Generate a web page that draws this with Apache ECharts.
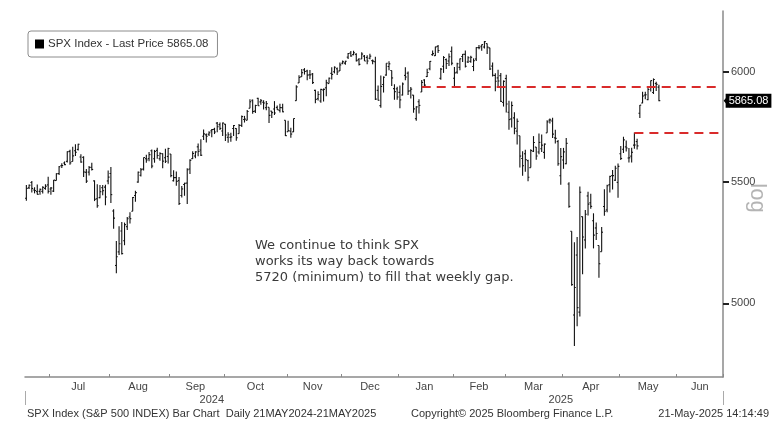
<!DOCTYPE html>
<html>
<head>
<meta charset="utf-8">
<script src="https://cdn.jsdelivr.net/npm/echarts@6/dist/echarts.min.js"></script>
<style>
html,body{margin:0;padding:0;background:#fff;}
#chart{width:780px;height:431px;}
</style>
</head>
<body>
<div id="chart"></div>
<script>
// Trading days shown on the axis (data through 21 May 2025, empty days after)
const dates = [
'2024-06-17','2024-06-18','2024-06-20','2024-06-21','2024-06-24','2024-06-25','2024-06-26','2024-06-27','2024-06-28',
'2024-07-01','2024-07-02','2024-07-03','2024-07-05','2024-07-08','2024-07-09','2024-07-10','2024-07-11','2024-07-12','2024-07-15','2024-07-16','2024-07-17','2024-07-18','2024-07-19','2024-07-22','2024-07-23','2024-07-24','2024-07-25','2024-07-26','2024-07-29','2024-07-30','2024-07-31',
'2024-08-01','2024-08-02','2024-08-05','2024-08-06','2024-08-07','2024-08-08','2024-08-09','2024-08-12','2024-08-13','2024-08-14','2024-08-15','2024-08-16','2024-08-19','2024-08-20','2024-08-21','2024-08-22','2024-08-23','2024-08-26','2024-08-27','2024-08-28','2024-08-29','2024-08-30',
'2024-09-03','2024-09-04','2024-09-05','2024-09-06','2024-09-09','2024-09-10','2024-09-11','2024-09-12','2024-09-13','2024-09-16','2024-09-17','2024-09-18','2024-09-19','2024-09-20','2024-09-23','2024-09-24','2024-09-25','2024-09-26','2024-09-27','2024-09-30',
'2024-10-01','2024-10-02','2024-10-03','2024-10-04','2024-10-07','2024-10-08','2024-10-09','2024-10-10','2024-10-11','2024-10-14','2024-10-15','2024-10-16','2024-10-17','2024-10-18','2024-10-21','2024-10-22','2024-10-23','2024-10-24','2024-10-25','2024-10-28','2024-10-29','2024-10-30','2024-10-31',
'2024-11-01','2024-11-04','2024-11-05','2024-11-06','2024-11-07','2024-11-08','2024-11-11','2024-11-12','2024-11-13','2024-11-14','2024-11-15','2024-11-18','2024-11-19','2024-11-20','2024-11-21','2024-11-22','2024-11-25','2024-11-26','2024-11-27','2024-11-29',
'2024-12-02','2024-12-03','2024-12-04','2024-12-05','2024-12-06','2024-12-09','2024-12-10','2024-12-11','2024-12-12','2024-12-13','2024-12-16','2024-12-17','2024-12-18','2024-12-19','2024-12-20','2024-12-23','2024-12-24','2024-12-26','2024-12-27','2024-12-30','2024-12-31',
'2025-01-02','2025-01-03','2025-01-06','2025-01-07','2025-01-08','2025-01-10','2025-01-13','2025-01-14','2025-01-15','2025-01-16','2025-01-17','2025-01-21','2025-01-22','2025-01-23','2025-01-24','2025-01-27','2025-01-28','2025-01-29','2025-01-30','2025-01-31',
'2025-02-03','2025-02-04','2025-02-05','2025-02-06','2025-02-07','2025-02-10','2025-02-11','2025-02-12','2025-02-13','2025-02-14','2025-02-18','2025-02-19','2025-02-20','2025-02-21','2025-02-24','2025-02-25','2025-02-26','2025-02-27','2025-02-28',
'2025-03-03','2025-03-04','2025-03-05','2025-03-06','2025-03-07','2025-03-10','2025-03-11','2025-03-12','2025-03-13','2025-03-14','2025-03-17','2025-03-18','2025-03-19','2025-03-20','2025-03-21','2025-03-24','2025-03-25','2025-03-26','2025-03-27','2025-03-28','2025-03-31',
'2025-04-01','2025-04-02','2025-04-03','2025-04-04','2025-04-07','2025-04-08','2025-04-09','2025-04-10','2025-04-11','2025-04-14','2025-04-15','2025-04-16','2025-04-17','2025-04-21','2025-04-22','2025-04-23','2025-04-24','2025-04-25','2025-04-28','2025-04-29','2025-04-30',
'2025-05-01','2025-05-02','2025-05-05','2025-05-06','2025-05-07','2025-05-08','2025-05-09','2025-05-12','2025-05-13','2025-05-14','2025-05-15','2025-05-16','2025-05-19','2025-05-20','2025-05-21',
'2025-05-22','2025-05-23','2025-05-27','2025-05-28','2025-05-29','2025-05-30',
'2025-06-02','2025-06-03','2025-06-04','2025-06-05','2025-06-06','2025-06-09','2025-06-10','2025-06-11','2025-06-12','2025-06-13','2025-06-16','2025-06-17','2025-06-18','2025-06-20','2025-06-23','2025-06-24','2025-06-25'
];

// Daily bars [open, high, low, close], one per trading day from 2024-06-17
const spxOHLC = [
[5431.1,5488.5,5420.4,5473.2],[5476.2,5490.4,5471.3,5487.0],[5499.0,5505.5,5455.6,5473.2],[5466.8,5478.3,5452.0,5464.6],[5459.6,5490.7,5447.6,5447.9],[5460.7,5472.9,5446.6,5469.3],[5460.7,5483.1,5451.9,5477.9],[5473.6,5490.8,5467.5,5482.9],[5488.5,5523.6,5451.1,5460.5],
[5471.1,5479.6,5446.5,5475.1],[5461.8,5509.7,5458.0,5509.0],[5507.4,5539.3,5507.4,5537.0],[5537.9,5570.3,5531.6,5567.2],[5572.8,5583.1,5562.5,5572.9],[5584.2,5590.8,5574.6,5577.0],[5591.3,5635.4,5586.4,5633.9],[5635.2,5642.5,5576.5,5584.5],[5590.8,5655.6,5590.4,5615.4],[5638.2,5666.9,5614.8,5631.2],[5644.1,5669.7,5639.0,5667.2],[5610.1,5622.5,5584.8,5588.3],[5608.6,5614.1,5522.8,5544.6],[5543.4,5557.5,5497.0,5505.0],[5544.1,5570.4,5529.0,5564.4],[5565.3,5585.3,5550.9,5555.7],[5505.8,5508.0,5419.0,5427.1],[5428.7,5491.6,5390.9,5399.2],[5433.7,5488.3,5430.7,5459.1],[5476.6,5487.7,5444.4,5463.5],[5478.7,5489.5,5401.7,5436.4],[5505.6,5551.5,5491.0,5522.3],
[5537.8,5566.2,5410.4,5446.7],[5376.6,5383.9,5302.0,5346.6],[5151.1,5250.9,5119.3,5186.3],[5206.4,5312.3,5193.6,5240.0],[5293.1,5330.6,5195.5,5199.5],[5252.6,5328.0,5233.9,5319.3],[5310.9,5351.9,5297.2,5344.2],[5351.4,5371.2,5324.4,5344.4],[5376.0,5436.5,5376.0,5434.4],[5442.7,5463.2,5415.9,5455.2],[5500.9,5546.2,5497.5,5543.2],[5530.5,5561.9,5525.2,5554.3],[5557.2,5608.3,5550.7,5608.3],[5602.9,5620.5,5585.5,5597.1],[5603.1,5632.7,5591.6,5620.9],[5637.8,5643.2,5560.9,5570.6],[5602.8,5641.8,5585.2,5634.6],[5639.7,5651.6,5602.3,5616.8],[5602.9,5631.2,5593.5,5625.8],[5624.5,5627.0,5560.9,5592.2],[5607.3,5646.9,5583.7,5592.0],[5612.7,5651.4,5581.3,5648.4],
[5623.9,5623.9,5521.2,5528.9],[5506.7,5552.0,5503.7,5520.1],[5520.1,5546.3,5485.3,5503.4],[5507.3,5522.5,5402.6,5408.4],[5442.7,5484.2,5434.5,5471.1],[5490.5,5497.9,5441.7,5495.5],[5496.4,5560.4,5406.9,5554.1],[5557.5,5600.7,5535.5,5595.8],[5603.3,5636.3,5601.7,5626.0],[5615.1,5636.1,5604.5,5633.1],[5655.5,5670.8,5614.1,5634.6],[5641.7,5689.8,5615.1,5618.3],[5702.6,5733.6,5686.4,5713.6],[5709.2,5715.1,5674.5,5702.6],[5711.9,5725.4,5704.2,5718.6],[5727.0,5735.3,5698.0,5732.9],[5733.6,5741.0,5712.8,5722.3],[5762.2,5767.4,5721.0,5745.4],[5755.4,5765.1,5730.7,5738.2],[5726.5,5765.1,5703.5,5762.5],
[5757.7,5757.7,5681.3,5708.8],[5698.2,5720.3,5674.1,5709.5],[5698.0,5718.8,5677.9,5699.9],[5737.8,5753.6,5703.7,5751.1],[5737.8,5739.3,5683.0,5695.9],[5714.6,5757.6,5714.6,5751.1],[5751.8,5796.8,5745.0,5792.0],[5778.4,5795.0,5764.8,5780.1],[5775.1,5822.1,5775.1,5815.0],[5829.8,5871.4,5829.8,5859.9],[5866.7,5870.4,5804.5,5815.3],[5816.6,5846.4,5808.3,5842.5],[5875.6,5878.5,5840.3,5841.5],[5859.4,5872.2,5846.1,5864.7],[5857.8,5866.9,5824.8,5854.0],[5832.7,5863.0,5821.2,5851.2],[5834.5,5834.9,5762.4,5797.4],[5816.6,5817.8,5784.9,5809.9],[5826.8,5862.8,5799.0,5808.1],[5833.9,5842.9,5823.1,5823.5],[5819.7,5850.9,5810.3,5832.9],[5832.7,5850.9,5811.3,5813.7],[5775.3,5775.3,5703.6,5705.5],
[5723.2,5772.6,5723.2,5728.8],[5725.2,5741.4,5696.5,5712.7],[5722.4,5783.4,5722.1,5782.8],[5864.9,5936.1,5864.9,5929.0],[5947.5,5983.8,5947.5,5973.1],[5976.8,6012.5,5976.8,5995.5],[6008.9,6017.3,5986.7,6001.4],[6003.6,6009.9,5960.1,5984.0],[5985.8,6008.2,5965.9,5985.4],[5989.5,5993.9,5942.3,5949.2],[5912.8,5915.3,5853.0,5870.6],[5874.2,5909.0,5865.9,5893.6],[5863.6,5920.7,5854.8,5917.0],[5914.6,5920.9,5860.6,5917.1],[5924.6,5962.0,5885.8,5948.7],[5944.4,5972.9,5944.4,5969.3],[5992.3,6020.8,5963.9,5987.4],[6000.0,6025.4,5992.3,6021.6],[6014.1,6020.2,5984.9,5998.7],[6003.9,6044.2,6003.9,6032.4],
[6040.1,6053.6,6035.3,6047.2],[6041.0,6052.1,6033.4,6049.9],[6069.4,6089.8,6061.1,6086.5],[6089.3,6099.0,6070.9,6075.1],[6081.4,6099.9,6079.0,6090.3],[6083.0,6088.5,6048.6,6052.9],[6057.6,6065.4,6029.9,6034.9],[6060.2,6092.6,6060.2,6084.2],[6074.3,6079.7,6051.3,6051.3],[6068.2,6078.6,6035.8,6051.1],[6063.8,6085.2,6059.1,6074.1],[6052.6,6057.7,6035.2,6050.6],[6047.7,6070.7,5867.8,5872.2],[5912.7,5935.5,5866.1,5867.1],[5842.0,5982.1,5832.3,5930.9],[5940.3,5978.3,5902.6,5974.1],[5984.6,6040.1,5981.4,6040.0],[6024.9,6049.8,6007.4,6037.6],[6006.2,6006.2,5932.9,5970.8],[5920.7,5940.8,5869.2,5906.9],[5919.7,5929.7,5868.9,5881.6],
[5903.3,5935.1,5829.5,5868.6],[5891.1,5949.3,5888.7,5942.5],[5982.8,6021.0,5960.0,5975.4],[5993.3,6000.7,5890.7,5909.0],[5910.7,5927.9,5874.8,5918.3],[5890.7,5890.7,5809.4,5827.0],[5782.3,5838.8,5773.3,5836.2],[5859.7,5871.9,5805.5,5842.9],[5905.2,5960.6,5905.2,5949.9],[5961.3,5964.7,5930.6,5937.3],[5977.2,6014.0,5975.4,5996.7],[6014.1,6051.5,6006.9,6049.2],[6081.4,6100.8,6076.1,6086.4],[6076.3,6118.7,6074.7,6118.7],[6121.4,6128.2,6088.7,6101.2],[5969.0,6017.2,5962.9,6012.3],[6026.0,6074.5,5994.6,6067.7],[6057.7,6062.8,6012.9,6039.3],[6050.8,6086.6,6027.5,6071.2],[6096.8,6120.9,6030.9,6040.5],
[5969.7,6022.1,5923.9,5994.6],[5998.1,6042.5,5990.9,6037.9],[6020.5,6062.9,6007.1,6061.5],[6072.2,6084.0,6046.8,6083.6],[6083.1,6101.3,6019.9,6026.0],[6046.4,6073.4,6041.6,6066.4],[6049.3,6076.3,6042.3,6068.5],[6025.1,6063.5,6003.0,6052.0],[6060.6,6116.9,6051.0,6115.1],[6115.5,6127.5,6107.6,6114.6],[6121.6,6129.6,6099.5,6129.6],[6117.8,6147.4,6111.2,6144.2],[6134.5,6134.5,6084.6,6117.5],[6114.1,6114.8,6008.6,6013.1],[6026.7,6043.6,5977.8,5983.3],[5982.7,5992.7,5908.5,5955.3],[5970.9,6009.8,5932.7,5956.1],[5981.9,5993.7,5858.8,5861.6],[5856.7,5959.4,5837.7,5954.5],
[5968.3,5986.1,5810.9,5849.7],[5811.9,5865.1,5732.6,5778.2],[5781.4,5860.6,5742.4,5842.6],[5785.9,5812.1,5711.6,5738.5],[5726.0,5783.0,5666.3,5770.2],[5705.4,5705.4,5564.0,5614.6],[5603.7,5636.3,5528.4,5572.1],[5624.8,5642.2,5546.1,5599.3],[5594.5,5597.8,5504.7,5521.5],[5563.9,5645.3,5563.9,5638.9],[5635.6,5703.5,5632.4,5675.1],[5654.5,5654.5,5597.8,5614.7],[5632.4,5715.3,5622.2,5675.3],[5646.9,5711.2,5632.6,5662.9],[5630.7,5670.8,5603.1,5667.6],[5718.1,5775.1,5718.1,5767.6],[5775.9,5783.6,5759.9,5776.7],[5771.7,5786.9,5694.5,5712.2],[5695.6,5732.3,5670.9,5693.3],[5679.0,5685.9,5572.4,5580.9],[5527.9,5650.6,5488.7,5611.9],
[5597.5,5650.8,5558.5,5633.1],[5580.8,5695.3,5578.6,5671.0],[5492.7,5500.4,5390.8,5396.5],[5292.1,5292.1,5069.9,5074.1],[4953.8,5246.6,4835.0,5062.3],[5193.6,5267.5,4910.4,4982.8],[4965.3,5481.3,4948.4,5456.9],[5353.2,5353.2,5115.3,5268.1],[5255.6,5381.5,5220.8,5363.4],[5441.0,5459.5,5358.0,5406.0],[5411.9,5450.4,5386.4,5396.6],[5335.8,5367.2,5220.8,5275.7],[5305.5,5328.3,5255.6,5282.7],[5232.9,5232.9,5101.6,5158.2],[5207.7,5309.6,5207.7,5287.8],[5395.9,5469.7,5356.5,5375.9],[5381.4,5489.4,5371.9,5484.8],[5489.7,5528.1,5455.9,5525.2],[5529.2,5553.7,5468.6,5528.8],[5508.9,5571.9,5505.7,5560.8],[5499.4,5581.8,5433.2,5569.1],
[5625.1,5658.9,5597.4,5604.1],[5645.0,5700.7,5628.1,5686.7],[5655.3,5683.3,5634.5,5650.4],[5605.9,5649.9,5586.1,5606.9],[5614.2,5651.7,5586.4,5631.3],[5663.2,5720.1,5646.5,5663.9],[5679.0,5691.3,5644.2,5659.9],[5807.2,5845.1,5785.9,5844.2],[5854.1,5906.6,5853.5,5886.6],[5891.0,5906.0,5871.0,5892.6],[5869.8,5924.2,5867.4,5916.9],[5929.1,5958.6,5907.4,5958.4],[5902.9,5968.6,5895.7,5963.6],[5944.7,5953.1,5909.3,5940.5],[5928.0,5939.0,5862.0,5865.1]
];

const yTicks = [5000, 5500, 6000];
const lastPrice = 5865.08;
const upperLevel = 5930;   // red dashed line
const upperStart = '2025-01-15';
const lowerLevel = 5720;   // weekly gap level
const lowerStart = '2025-05-08';
const seriesName = 'SPX Index - Last Price 5865.08';
const noteText = 'We continue to think SPX\nworks its way back towards\n5720 (minimum) to fill that weekly gap.';
const monthNames = ['Jan','Feb','Mar','Apr','May','Jun','Jul','Aug','Sep','Oct','Nov','Dec'];

// month grouping of categories (for ticks and centred labels)
const monthFirst = {}, monthMid = {};
(function () {
  const groups = [];
  dates.forEach((d, i) => {
    const key = d.slice(0, 7);
    if (!groups.length || groups[groups.length - 1].key !== key) groups.push({ key, start: i, n: 0 });
    groups[groups.length - 1].n++;
  });
  groups.forEach((g, gi) => {
    if (gi > 0) monthFirst[g.start] = true;
    if (gi > 0) monthMid[g.start + Math.floor((g.n - 1) / 2)] = monthNames[+g.key.slice(5, 7) - 1];
  });
})();
const first2025 = dates.findIndex(d => d.startsWith('2025'));
const yearMid = {};
yearMid[Math.floor((first2025 - 1) / 2)] = '2024';
yearMid[first2025 + Math.floor((dates.length - 1 - first2025) / 2)] = '2025';

const barData = spxOHLC.map((r, i) => [i, r[0], r[1], r[2], r[3]]);
const FONT = 'Liberation Sans, Arial, sans-serif';
const NOTE_FONT = 'DejaVu Sans, Verdana, sans-serif';

function tickLabel(v, i) {
  let best = yTicks[0], d = Infinity;
  yTicks.forEach(t => { const dd = Math.abs(Math.log(t) - Math.log(+v)); if (dd < d) { d = dd; best = t; } });
  if (!isFinite(d) && i != null && yTicks[i] != null) best = yTicks[i];
  return String(best);
}

const chart = echarts.init(document.getElementById('chart'), null, { renderer: 'canvas' });
chart.setOption({
  animation: false,
  backgroundColor: '#ffffff',
  textStyle: { fontFamily: FONT },
  grid: { left: 25, right: 57, top: 11, bottom: 54, containLabel: false },
  legend: {
    left: 28, top: 31,
    data: [{ name: seriesName, icon: 'rect' }],
    selectedMode: false,
    itemWidth: 9, itemHeight: 9, itemGap: 4,
    borderColor: '#8c8c8c', borderWidth: 1, borderRadius: 3,
    padding: [7, 9, 7, 7],
    textStyle: { fontFamily: FONT, fontSize: 11.5, color: '#333', padding: [0, 0, 0, -1] }
  },
  xAxis: [{
    type: 'category', data: dates, boundaryGap: true, position: 'bottom',
    axisLine: { show: true, lineStyle: { color: '#8a8a8a', width: 1.5 } },
    axisTick: { show: true, inside: true, length: 3, interval: (i) => !!monthFirst[i], lineStyle: { color: '#8a8a8a' } },
    axisLabel: { interval: (i) => monthMid[i] !== undefined, formatter: (v, i) => monthMid[i] || '', color: '#444', fontSize: 11, margin: 4, fontFamily: FONT },
    splitLine: { show: false }
  }, {
    type: 'category', data: dates, boundaryGap: true, position: 'bottom', offset: 14,
    axisLine: { show: false },
    axisTick: { show: true, inside: false, length: 14, interval: (i) => i === first2025, lineStyle: { color: '#aaa' } },
    axisLabel: { interval: (i) => yearMid[i] !== undefined, formatter: (v, i) => yearMid[i] || '', color: '#444', fontSize: 11, margin: 3, fontFamily: FONT },
    splitLine: { show: false }
  }],
  yAxis: {
    type: 'log', logBase: 10, position: 'right', min: 4718, max: 6294,
    axisLine: { show: true, lineStyle: { color: '#8a8a8a', width: 1.5 } },
    axisTick: { show: true, customValues: yTicks, length: 6, lineStyle: { color: '#222', width: 2 } },
    axisLabel: { customValues: yTicks, formatter: tickLabel, color: '#444', fontSize: 11, margin: 8, fontFamily: FONT },
    splitLine: { show: false }
  },
  series: [{
    name: seriesName,
    type: 'custom',
    xAxisIndex: 0,
    itemStyle: { color: '#000' },
    encode: { x: 0, y: [1, 2, 3, 4] },
    data: barData,
    renderItem: function (params, api) {
      const x = api.value(0);
      const o = api.coord([x, api.value(1)]);
      const h = api.coord([x, api.value(2)]);
      const l = api.coord([x, api.value(3)]);
      const c = api.coord([x, api.value(4)]);
      const w = api.size([1, 0])[0] * 0.5;
      const st = { stroke: '#111', lineWidth: 1.1 };
      return {
        type: 'group',
        children: [
          { type: 'line', shape: { x1: h[0], y1: h[1], x2: l[0], y2: l[1] }, style: st },
          { type: 'line', shape: { x1: o[0] - w, y1: o[1], x2: o[0], y2: o[1] }, style: st },
          { type: 'line', shape: { x1: c[0], y1: c[1], x2: c[0] + w, y2: c[1] }, style: st }
        ]
      };
    },
    markLine: {
      silent: true, symbol: 'none', animation: false,
      data: [
        [{ coord: [upperStart, upperLevel], lineStyle: { color: '#d92b2b', width: 2, type: [9, 6] }, label: { show: false } },
         { coord: [dates[dates.length - 1], upperLevel] }],
        [{ coord: [lowerStart, lowerLevel], lineStyle: { color: '#d92b2b', width: 2, type: [9, 6] }, label: { show: false } },
         { coord: [dates[dates.length - 1], lowerLevel] }],
        [{ coord: [dates[0], lastPrice], lineStyle: { color: 'rgba(0,0,0,0)', width: 0 },
           label: { show: true, position: 'end', distance: 4, formatter: '5865.08', color: '#fff', backgroundColor: '#000',
                    padding: [2, 3, 1, 3], fontSize: 11, fontFamily: FONT } },
         { coord: [dates[dates.length - 1], lastPrice] }]
      ]
    },
    markPoint: {
      silent: true, animation: false,
      data: [{ coord: [dates[dates.length - 1], lastPrice], symbol: 'triangle', symbolRotate: 90, symbolSize: [14, 6], symbolOffset: [5, 0], itemStyle: { color: '#000' }, label: { show: false } }]
    }
  }],
  graphic: [
    { type: 'text', left: 255, top: 238, silent: true,
      style: { text: noteText, fill: '#3a3a3a', font: '13px ' + NOTE_FONT, lineHeight: 16 } },
    { type: 'text', x: 757, y: 198, rotation: -Math.PI / 2, silent: true,
      style: { text: 'log', fill: '#b4b4b4', font: '22px ' + FONT, textAlign: 'center', textVerticalAlign: 'middle' } },
    { type: 'text', left: 27, top: 408, silent: true,
      style: { text: 'SPX Index (S&P 500 INDEX) Bar Chart  Daily 21MAY2024-21MAY2025', fill: '#333', font: '11px ' + FONT } },
    { type: 'text', left: 411, top: 408, silent: true,
      style: { text: 'Copyright\u00a9 2025 Bloomberg Finance L.P.', fill: '#333', font: '11px ' + FONT } },
    { type: 'text', right: 11, top: 408, silent: true,
      style: { text: '21-May-2025 14:14:49', fill: '#333', font: '11px ' + FONT } }
  ]
});
</script>
</body>
</html>
